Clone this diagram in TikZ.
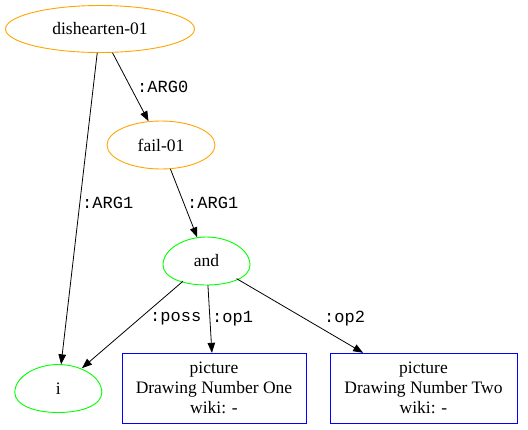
\documentclass[tikz,border=0pt]{standalone}
\usepackage{fontspec}
\setmainfont{Liberation Serif}
\setmonofont{Liberation Mono}
\usetikzlibrary{shapes.geometric,arrows.meta}
\definecolor{amrorange}{HTML}{FFA500}
\definecolor{amrgreen}{HTML}{00FF00}
\definecolor{amrblue}{HTML}{0000FF}
\tikzset{
  txt/.style={font=\fontsize{17.5}{20}\selectfont},
  concept/.style={txt, ellipse, draw=amrorange, line width=0.9pt, inner sep=0pt},
  eggnode/.style={txt, ellipse, draw=none, inner sep=0pt, minimum width=87pt, minimum height=48pt},
  eggline/.style={draw=amrgreen, line width=0.9pt},
  entity/.style={txt, rectangle, draw=amrblue, line width=0.9pt, align=center, inner sep=0pt},
  rel/.style={draw=black, line width=0.8pt, -{Triangle[length=10pt,width=7.5pt]}},
  lbl/.style={font=\ttfamily\fontsize{17}{20}\selectfont, anchor=west, inner sep=0pt},
}
\newcommand\drawAMRegg[1]{%
  \draw[eggline] ([shift={(-43.5,4)}]#1.center)
    .. controls ([shift={(-43.5,-12)}]#1.center) and ([shift={(-22,-24)}]#1.center) .. ([shift={(0,-24)}]#1.center)
    .. controls ([shift={(22,-24)}]#1.center) and ([shift={(43.5,-12)}]#1.center) .. ([shift={(43.5,4)}]#1.center)
    .. controls ([shift={(43.5,16)}]#1.center) and ([shift={(25,24)}]#1.center) .. ([shift={(0,24)}]#1.center)
    .. controls ([shift={(-25,24)}]#1.center) and ([shift={(-43.5,16)}]#1.center) .. cycle;}
\begin{document}
\begin{tikzpicture}[x=1pt,y=-1pt]
\useasboundingbox (0,0) rectangle (528,429);
\node[concept, minimum width=189pt, minimum height=47pt] (dis) at (100,29) {dishearten-01};
\node[concept, minimum width=108pt, minimum height=48pt] (fail) at (161,145) {fail-01};
\node[eggnode] (and) at (206.5,261) {and};
\drawAMRegg{and}
\node[eggnode] (i) at (58.3,388.5) {i};
\drawAMRegg{i}
\node[entity, minimum width=184pt, minimum height=70pt] (p1) at (214,388.3) {picture\\Drawing Number One\\wiki: -};
\node[entity, minimum width=187pt, minimum height=70pt] (p2) at (423.5,388.3) {picture\\Drawing Number Two\\wiki: -};
\draw[rel] (dis) -- (fail);
\draw[rel] (dis) -- (i);
\draw[rel] (fail) -- (and);
\draw[rel] (and) -- (i);
\draw[rel] (and) -- (p1);
\draw[rel] (and) -- (p2);
\node[lbl] (l1) at (137,87) {:ARG0};
\node[lbl] (l2) at (82,203) {:ARG1};
\node[lbl] (l3) at (187,203) {:ARG1};
\node[lbl] (l4) at (150,319) {:poss};
\node[lbl] (l5) at (212,319) {:op1};
\node[lbl] (l6) at (324,319) {:op2};
\end{tikzpicture}
\end{document}
